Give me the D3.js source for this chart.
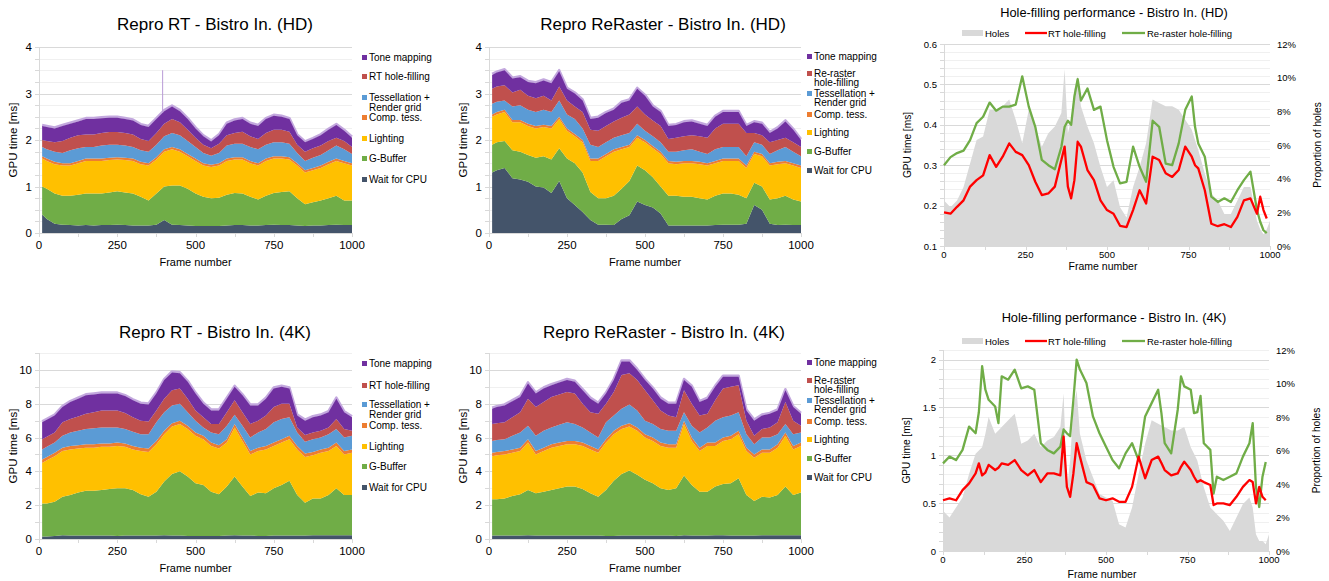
<!DOCTYPE html>
<html><head><meta charset="utf-8">
<script src="https://cdn.jsdelivr.net/npm/d3@7"></script>
<style>
body{margin:0;background:#fff}
svg{display:block}
text{font-family:"Liberation Sans",Arial,Helvetica,sans-serif;fill:#000}
</style>
</head><body>
<svg id="c" width="1329" height="581"></svg>
<script>
// ---------------- DATA ----------------
const stackFrames = [10,25,50,75,100,125,150,175,200,225,250,275,300,325,350,375,400,425,450,475,500,525,550,575,600,625,650,675,700,725,750,775,800,825,850,875,900,925,950,975,1000];
const stackColors = ["#44546a","#70ad47","#ffc000","#ed7d31","#5b9bd5","#c0504d","#7030a0"];

// Repro RT - HD (layer thickness, ms)
const rtHD_wait  = [.40,.30,.20,.18,.17,.16,.17,.16,.17,.17,.18,.17,.16,.16,.16,.18,.28,.18,.17,.16,.15,.15,.15,.15,.16,.17,.17,.16,.16,.17,.18,.17,.17,.16,.15,.16,.16,.17,.18,.17,.17];
const rtHD_gbuf  = [.60,.65,.65,.62,.63,.66,.68,.69,.68,.70,.72,.70,.69,.62,.54,.67,.72,.84,.85,.79,.70,.63,.60,.61,.66,.69,.68,.62,.56,.63,.68,.71,.73,.59,.47,.50,.54,.58,.62,.53,.53];
const rtHD_light = [.60,.60,.63,.65,.65,.68,.70,.70,.70,.70,.68,.70,.70,.70,.75,.73,.75,.78,.73,.70,.70,.67,.67,.69,.73,.72,.73,.72,.73,.75,.74,.72,.68,.70,.68,.69,.70,.73,.75,.80,.75];
const rtHD_comp  = [.05,.05,.05,.05,.05,.05,.05,.05,.05,.05,.05,.05,.05,.05,.05,.05,.05,.05,.05,.05,.05,.05,.05,.05,.05,.05,.05,.05,.05,.05,.05,.05,.05,.05,.05,.05,.05,.05,.05,.05,.05];
const rtHD_tess  = [.20,.20,.22,.22,.28,.27,.25,.25,.28,.28,.27,.26,.25,.25,.25,.27,.28,.30,.30,.28,.25,.22,.19,.22,.28,.29,.29,.30,.30,.30,.30,.30,.29,.22,.20,.22,.23,.25,.28,.25,.20];
const rtHD_hole  = [.15,.18,.20,.26,.27,.28,.27,.27,.27,.27,.27,.27,.27,.24,.23,.25,.27,.30,.28,.24,.20,.18,.16,.20,.22,.23,.26,.23,.22,.25,.27,.27,.26,.18,.20,.20,.20,.20,.17,.18,.15];
const rtHD_tone  = [.30,.30,.30,.32,.30,.30,.33,.33,.32,.31,.31,.30,.30,.30,.30,.30,.27,.27,.24,.23,.20,.18,.15,.18,.25,.27,.27,.27,.28,.30,.30,.28,.27,.20,.20,.20,.22,.24,.27,.22,.20];
const rtHD_spikeFrames = [395];
const rtHD_spikeTops = [3.5];

// Repro ReRaster - HD
const rrHD_wait  = [1.30,1.35,1.40,1.18,1.15,1.10,1.00,.98,.86,1.12,.75,.60,.45,.28,.18,.18,.17,.30,.38,.68,.60,.55,.42,.16,.16,.16,.16,.16,.16,.17,.18,.18,.18,.20,.60,.50,.20,.17,.18,.17,.17];
const rrHD_gbuf  = [.60,.60,.58,.60,.60,.58,.62,.67,.72,.70,.85,.90,.85,.60,.57,.57,.63,.65,.74,.77,.75,.65,.58,.64,.64,.62,.62,.59,.56,.63,.67,.67,.64,.55,.48,.50,.52,.58,.62,.55,.51];
const rrHD_light = [.60,.60,.62,.60,.63,.62,.63,.63,.67,.63,.60,.58,.65,.67,.80,.90,.95,.85,.73,.60,.60,.62,.70,.70,.68,.72,.72,.73,.73,.70,.70,.70,.73,.65,.62,.65,.73,.73,.70,.73,.72];
const rrHD_comp  = [.05,.05,.05,.05,.05,.05,.05,.05,.05,.05,.05,.05,.05,.05,.05,.05,.05,.05,.05,.05,.05,.05,.05,.05,.05,.05,.05,.05,.05,.05,.05,.05,.05,.05,.05,.05,.05,.05,.05,.05,.05];
const rrHD_tess  = [.23,.22,.20,.29,.32,.30,.30,.32,.30,.35,.30,.32,.25,.30,.25,.25,.25,.25,.25,.25,.20,.21,.20,.20,.22,.23,.25,.22,.20,.25,.25,.25,.25,.20,.20,.20,.20,.25,.30,.25,.20];
const rrHD_hole  = [.32,.33,.33,.30,.33,.30,.30,.30,.25,.30,.30,.27,.35,.32,.35,.35,.35,.38,.40,.37,.35,.34,.35,.27,.30,.30,.30,.33,.35,.45,.50,.50,.50,.50,.20,.20,.25,.22,.20,.20,.20];
const rrHD_tone  = [.30,.30,.32,.30,.27,.30,.32,.33,.37,.33,.25,.28,.25,.23,.28,.28,.25,.32,.30,.38,.40,.30,.30,.28,.27,.30,.30,.27,.25,.25,.25,.25,.25,.15,.23,.25,.20,.25,.35,.27,.15];

// Repro RT - 4K
const rt4K_wait  = [.15,.15,.18,.22,.20,.20,.20,.20,.20,.20,.18,.20,.20,.20,.20,.20,.22,.20,.20,.18,.18,.18,.18,.18,.20,.22,.20,.20,.18,.18,.20,.20,.20,.20,.20,.22,.22,.22,.22,.22,.22];
const rt4K_gbuf  = [1.95,1.95,2.02,2.28,2.40,2.55,2.65,2.65,2.70,2.75,2.82,2.80,2.70,2.45,2.30,2.60,3.18,3.65,3.80,3.52,3.12,3.02,2.62,2.47,2.90,3.48,2.90,2.35,2.57,2.52,2.80,3.00,3.25,2.40,1.95,2.18,2.18,2.38,2.78,2.38,2.38];
const rt4K_light = [2.40,2.55,2.70,2.70,2.70,2.60,2.55,2.55,2.55,2.50,2.50,2.45,2.40,2.55,2.65,2.80,2.80,2.80,2.80,2.80,2.80,2.70,2.70,2.70,2.60,2.90,2.70,2.45,2.45,2.60,2.50,2.50,2.45,2.70,2.70,2.55,2.70,2.60,2.50,2.40,2.50];
const rt4K_comp  = [.20,.20,.20,.20,.20,.20,.20,.20,.20,.20,.20,.20,.20,.20,.20,.20,.20,.20,.20,.20,.20,.20,.20,.20,.20,.20,.20,.20,.20,.20,.20,.20,.20,.20,.20,.20,.20,.20,.20,.20,.20];
const rt4K_tess  = [.60,.60,.60,.70,.80,.85,.90,.95,.95,.95,.90,.85,.85,.80,.85,1.10,1.10,1.05,1.00,.80,.70,.50,.60,.65,.80,.55,.70,.80,.90,1.00,1.20,1.20,1.10,.80,.70,.75,.70,.80,.80,.80,.80];
const rt4K_hole  = [.60,.60,.60,.80,.80,.85,.90,.95,1.00,1.00,1.00,.95,.85,.80,.75,.70,.80,.90,.90,.80,.60,.60,.50,.60,.80,.85,.80,.80,.70,.80,.90,.90,.80,.30,.40,.40,.40,.40,.60,.50,.30];
const rt4K_tone  = [1.00,1.00,1.00,.90,1.00,1.05,1.10,1.05,1.00,1.00,1.00,1.00,1.00,1.00,1.00,1.00,1.10,1.05,.90,1.00,1.00,.80,.80,.80,.80,.80,1.00,1.10,.90,1.00,1.10,1.00,.90,.70,.85,.90,.90,.90,1.20,1.00,.80];

// Repro ReRaster - 4K
const rr4K_wait  = [.20,.20,.20,.20,.20,.22,.20,.20,.20,.20,.20,.20,.20,.20,.20,.18,.18,.20,.20,.20,.20,.20,.20,.20,.18,.22,.20,.20,.20,.22,.22,.20,.20,.20,.20,.22,.22,.22,.22,.22,.22];
const rr4K_gbuf  = [2.15,2.15,2.20,2.35,2.45,2.68,2.50,2.60,2.70,2.80,2.90,2.90,2.75,2.50,2.30,2.72,3.27,3.65,3.85,3.60,3.30,3.10,2.80,2.70,2.82,3.53,3.00,2.60,2.60,2.88,3.03,3.10,3.40,2.40,2.05,2.28,2.23,2.38,2.88,2.38,2.53];
const rr4K_light = [2.55,2.60,2.60,2.55,2.55,2.80,2.30,2.40,2.50,2.50,2.50,2.50,2.55,2.60,2.60,2.80,2.75,2.65,2.60,2.60,2.50,2.50,2.50,2.50,2.40,3.05,2.60,2.40,2.70,2.40,2.55,2.60,2.60,2.60,2.55,2.60,2.65,2.80,3.00,2.70,2.75];
const rr4K_comp  = [.20,.20,.20,.20,.20,.20,.20,.20,.20,.20,.20,.20,.20,.20,.20,.20,.20,.20,.20,.20,.20,.20,.20,.20,.20,.20,.20,.20,.20,.20,.20,.20,.20,.20,.20,.20,.20,.20,.20,.20,.20];
const rr4K_tess  = [.70,.70,.70,.80,.90,.80,.90,1.00,1.00,1.05,1.10,1.00,.90,.80,.70,1.00,.90,1.00,1.10,1.00,.80,.80,.80,.80,.80,.50,.70,.90,.90,1.30,1.20,1.20,1.10,.80,.60,.70,.70,.60,.50,.70,.60];
const rr4K_hole  = [1.00,1.00,1.00,1.10,1.20,1.60,1.70,1.70,1.80,1.80,1.80,1.80,1.40,1.20,1.40,1.10,1.40,2.00,1.85,1.80,1.80,1.40,1.10,.90,.80,1.30,1.30,1.00,.80,1.20,1.70,1.70,1.60,.80,.50,.50,.60,.70,1.30,.80,.40];
const rr4K_tone  = [.90,.95,1.00,.95,.90,.90,.80,.80,.70,.70,.70,.70,.80,.80,.60,.60,.70,.80,.70,.60,.60,.70,.70,.70,.80,.60,1.00,.80,.90,.80,.70,.60,.50,.60,.90,.80,.80,.70,.70,.80,.70];

// Legends (top to bottom)
const legendRT = ["Tone mapping","RT hole-filling","Tessellation +|Render grid","Comp. tess.","Lighting","G-Buffer","Wait for CPU"];
const legendRR = ["Tone mapping","Re-raster|hole-filling","Tessellation +|Render grid","Comp. tess.","Lighting","G-Buffer","Wait for CPU"];

const frameTicks = [0,250,500,750,1000];
const yTicksHD = [0,1,2,3,4];
const yTicks4K = [0,2,4,6,8,10];

// Hole-filling - HD
const holeFramesHD = [0,20,40,60,80,100,120,140,160,180,200,220,240,260,280,300,320,340,360,370,380,390,400,410,420,440,460,480,500,520,540,560,580,600,620,640,660,680,700,720,740,760,770,780,800,820,840,860,880,900,920,940,960,970,980,990,1000];
const holesHD   = [2.7,2.3,2.7,3.5,4.9,6.3,6.5,8.1,8.1,8.3,8.7,7.5,6.1,8.1,7.1,5.9,6.7,7.1,7.9,10.5,6.7,7.5,9.3,10.1,8.3,7.1,6.1,4.7,3.5,3.9,2.3,1.7,3.5,4.7,6.1,8.7,8.5,8.3,8.3,8.1,7.5,6.9,6.3,5.7,4.3,3.1,2.7,1.9,1.9,2.7,3.5,3.5,1.5,1.0,0.7,1.0,1.5];
const rtFillHD  = [.183,.18,.197,.213,.247,.263,.275,.325,.296,.321,.354,.333,.325,.30,.259,.226,.23,.247,.313,.346,.247,.218,.263,.358,.346,.288,.263,.213,.189,.18,.15,.147,.189,.238,.205,.321,.313,.28,.271,.288,.346,.321,.30,.292,.238,.155,.149,.154,.147,.172,.213,.218,.18,.222,.189,.168,null];
const rrFillHD  = [.30,.32,.33,.336,.362,.404,.42,.455,.435,.445,.445,.45,.52,.445,.395,.313,.30,.29,.345,.395,.41,.40,.47,.513,.46,.49,.437,.445,.362,.296,.255,.259,.346,.296,.259,.41,.395,.304,.30,.354,.437,.47,.395,.354,.321,.222,.209,.218,.209,.238,.263,.284,.189,.16,.139,.132,null];
const holeYTicksHD = [0.1,0.2,0.3,0.4,0.5,0.6];

// Hole-filling - 4K
const holeFrames4K = [0,20,40,60,80,100,110,120,130,140,160,170,180,200,220,240,260,280,300,320,340,360,370,380,390,400,410,420,440,460,480,500,520,540,560,580,600,620,640,660,670,680,700,720,730,740,760,770,780,790,800,820,830,840,860,880,900,920,940,950,960,970,980,990,1000];
const holes4K   = [2.4,2.0,2.6,3.2,4.6,5.8,6.0,6.2,7.0,8.0,7.0,7.2,7.4,7.8,8.2,6.4,6.6,7.0,6.2,6.6,6.8,7.4,9.4,3.6,5.4,8.6,9.6,7.0,5.4,4.4,3.4,3.2,3.0,1.6,1.4,2.6,4.6,6.4,7.8,7.6,7.5,7.4,7.2,7.2,7.3,7.4,6.2,5.8,5.4,4.6,3.8,2.6,2.4,2.2,1.8,1.2,2.0,2.8,3.2,2.6,1.0,0.6,0.6,0.4,1.0];
const rtFill4K  = [.53,.55,.53,.636,.706,.81,.916,.79,.82,.90,.846,.87,.916,.90,.95,.846,.79,.846,.72,.81,.81,.79,1.196,.67,.566,.81,1.126,.986,.72,.69,.55,.53,.55,.514,.514,.67,.986,.76,.95,.986,.92,.846,.79,.81,.88,.934,.846,.776,.72,.74,.72,.69,.48,.497,.497,.48,.566,.67,.741,.72,.497,.67,.566,.53,null];
const rrFill4K  = [.916,.986,.95,1.056,1.30,1.23,1.45,1.93,1.685,1.58,1.51,1.336,1.825,1.79,1.895,1.70,1.72,1.685,1.126,1.056,1.02,1.09,1.27,1.23,1.20,1.58,2.0,1.895,1.755,1.406,1.23,1.09,.95,.864,1.02,1.126,.95,1.406,1.545,1.685,1.44,1.126,1.02,1.476,1.825,1.72,1.685,1.44,1.45,1.62,1.126,1.056,.60,.776,.741,.776,.811,.986,1.126,1.336,.67,.46,.776,.93,null];
const holeYTicks4K = [0,0.5,1,1.5,2];
const pctTicks = [0,2,4,6,8,10,12];
const holeLegend = ["Holes","RT hole-filling","Re-raster hole-filling"];
const holeColors = ["#d9d9d9","#ff0000","#70ad47"];

// ---------------- DRAWING ----------------
const svg = d3.select("#c");
const near = (a,b)=>Math.abs(a-b)<1e-6;
const px = v=>Math.round(v)+0.5;

function drawStack(c){
  const g = svg.append("g");
  const x = d3.scaleLinear().domain([0,1000]).range([c.l,c.r]);
  const y = d3.scaleLinear().domain([0,c.yMax]).range([c.b,c.t]);
  const grid = d3.range(0, c.yMax+1e-9, c.minor);
  g.append("g").selectAll("line").data(grid).join("line")
    .attr("x1",c.l).attr("x2",c.r).attr("y1",d=>px(y(d))).attr("y2",d=>px(y(d)))
    .attr("stroke",d=>c.ticks.some(t=>near(t,d))?"#d9d9d9":"#f0f0f0").attr("stroke-width",1);
  g.append("g").selectAll("line").data(grid).join("line")
    .attr("x1",c.l-4).attr("x2",c.l).attr("y1",d=>px(y(d))).attr("y2",d=>px(y(d)))
    .attr("stroke","#d9d9d9");
  const keys = ["wait","gbuf","light","comp","tess","hole","tone"];
  const rows = stackFrames.map((f,i)=>{const r={frame:f}; keys.forEach((k,j)=>r[k]=c.series[j][i]); return r;});
  const layers = d3.stack().keys(keys)(rows);
  const area = d3.area().x(d=>x(d.data.frame)).y0(d=>y(d[0])).y1(d=>y(d[1]));
  // light fringe above the top layer
  g.append("path").datum(layers[layers.length-1]).attr("fill","none")
    .attr("stroke","#c3a8de").attr("stroke-width",2.5).attr("stroke-linejoin","round")
    .attr("d",d3.line().x(d=>x(d.data.frame)).y(d=>y(d[1])-1));
  g.append("g").selectAll("path").data(layers).join("path")
    .attr("fill",(d,i)=>stackColors[i]).attr("d",area);
  if(c.spikeFrames){
    const top = layers[layers.length-1];
    c.spikeFrames.forEach((f,i)=>{
      const idx = d3.bisector(d=>d.data.frame).left(top,f);
      const a=top[idx-1], b=top[idx];
      const t=(f-a.data.frame)/(b.data.frame-a.data.frame);
      const base=a[1]+(b[1]-a[1])*t;
      g.append("line").attr("x1",x(f)).attr("x2",x(f)).attr("y1",y(base)).attr("y2",y(c.spikeTops[i]))
        .attr("stroke","#b99bd6").attr("stroke-width",1);
    });
  }
  g.append("line").attr("x1",px(c.l)).attr("x2",px(c.l)).attr("y1",c.t).attr("y2",c.b).attr("stroke","#d9d9d9");
  g.append("line").attr("x1",c.l).attr("x2",c.r).attr("y1",px(c.b)).attr("y2",px(c.b)).attr("stroke","#d9d9d9");
  g.append("g").selectAll("line").data(d3.range(0,1001,125)).join("line")
    .attr("x1",d=>px(x(d))).attr("x2",d=>px(x(d))).attr("y1",c.b).attr("y2",c.b+4).attr("stroke","#d9d9d9");
  g.append("g").selectAll("text").data(c.ticks).join("text")
    .attr("x",c.l-7).attr("y",d=>y(d)+4).attr("text-anchor","end").attr("font-size",11.5).text(d=>d);
  g.append("g").selectAll("text").data(frameTicks).join("text")
    .attr("x",d=>x(d)).attr("y",c.b+16).attr("text-anchor","middle").attr("font-size",11.5).text(d=>d);
  g.append("text").attr("x",(c.l+c.r)/2).attr("y",c.b+33).attr("text-anchor","middle").attr("font-size",11).text("Frame number");
  g.append("text").attr("transform",`translate(${c.l-22},${(c.t+c.b)/2}) rotate(-90)`).attr("text-anchor","middle").attr("font-size",11.5).text("GPU time [ms]");
  g.append("text").attr("x",c.titleX).attr("y",c.titleY).attr("text-anchor","middle").attr("font-size",17).text(c.title);
  const colorsTopDown = stackColors.slice().reverse();
  c.legend.forEach((lab,i)=>{
    const yc = c.legY[i];
    g.append("rect").attr("x",c.legX).attr("y",yc-2).attr("width",5).attr("height",5).attr("fill",colorsTopDown[i]);
    const parts = lab.split("|");
    const t = g.append("text").attr("x",c.legX+7).attr("y",yc+4).attr("font-size",10);
    parts.forEach((p,k)=>t.append("tspan").attr("x",c.legX+7).attr("dy",k===0?0:c.legGap).text(p));
  });
}

function drawHoles(c){
  const g = svg.append("g");
  const x = d3.scaleLinear().domain([0,1000]).range([c.l,c.r]);
  const y = d3.scaleLinear().domain([c.yMin,c.yMax]).range([c.b,c.t]);
  const yR = d3.scaleLinear().domain([0,12]).range([c.b,c.t]);
  const grid = d3.range(c.yMin, c.yMax+1e-9, c.minor);
  g.append("g").selectAll("line").data(grid).join("line")
    .attr("x1",c.l).attr("x2",c.r).attr("y1",d=>px(y(d))).attr("y2",d=>px(y(d)))
    .attr("stroke",d=>c.ticks.some(t=>near(t,d))?"#d9d9d9":"#f0f0f0");
  g.append("g").selectAll("line").data(grid).join("line")
    .attr("x1",c.l-4).attr("x2",c.l).attr("y1",d=>px(y(d))).attr("y2",d=>px(y(d))).attr("stroke","#d9d9d9");
  const rows = c.frames.map((f,i)=>({f, h:c.holes[i], rt:c.rt[i], rr:c.rr[i]}));
  g.append("path").datum(rows).attr("fill",holeColors[0])
    .attr("d",d3.area().x(d=>x(d.f)).y0(c.b).y1(d=>yR(d.h)));
  g.append("line").attr("x1",px(c.l)).attr("x2",px(c.l)).attr("y1",c.t).attr("y2",c.b).attr("stroke","#d9d9d9");
  g.append("line").attr("x1",c.l).attr("x2",c.r).attr("y1",px(c.b)).attr("y2",px(c.b)).attr("stroke","#d9d9d9");
  g.append("g").selectAll("line").data(d3.range(0,1001,125)).join("line")
    .attr("x1",d=>px(x(d))).attr("x2",d=>px(x(d))).attr("y1",c.b).attr("y2",c.b+4).attr("stroke","#d9d9d9");
  const line = key=>d3.line().defined(d=>d[key]!=null).x(d=>x(d.f)).y(d=>y(d[key]));
  g.append("path").datum(rows).attr("fill","none").attr("stroke",holeColors[2]).attr("stroke-width",2.3).attr("stroke-linejoin","round").attr("d",line("rr"));
  g.append("path").datum(rows).attr("fill","none").attr("stroke",holeColors[1]).attr("stroke-width",2.3).attr("stroke-linejoin","round").attr("d",line("rt"));
  g.append("g").selectAll("text").data(c.ticks).join("text")
    .attr("x",c.l-7).attr("y",d=>y(d)+3.5).attr("text-anchor","end").attr("font-size",9.5).text(d=>d);
  g.append("g").selectAll("text").data(pctTicks).join("text")
    .attr("x",c.r+7).attr("y",d=>yR(d)+3.5).attr("font-size",9.5).text(d=>d+"%");
  g.append("g").selectAll("text").data(frameTicks).join("text")
    .attr("x",d=>x(d)).attr("y",c.b+12).attr("text-anchor","middle").attr("font-size",9.5).text(d=>d);
  g.append("text").attr("x",(c.l+c.r)/2-4).attr("y",c.b+c.xTitleDy).attr("text-anchor","middle").attr("font-size",10.5).text("Frame number");
  g.append("text").attr("transform",`translate(${c.l-33},${(c.t+c.b)/2}) rotate(-90)`).attr("text-anchor","middle").attr("font-size",10.2).text("GPU time [ms]");
  g.append("text").attr("transform",`translate(${c.r+51},${(c.t+c.b)/2}) rotate(-90)`).attr("text-anchor","middle").attr("font-size",10.2).text("Proportion of holes");
  g.append("text").attr("x",1114).attr("y",c.titleY).attr("text-anchor","middle").attr("font-size",12.8).text(c.title);
  const ly = c.legY;
  g.append("rect").attr("x",962).attr("y",ly-3).attr("width",21).attr("height",6).attr("fill",holeColors[0]);
  g.append("text").attr("x",985).attr("y",ly+3.5).attr("font-size",9.5).text(holeLegend[0]);
  g.append("line").attr("x1",1025).attr("x2",1047).attr("y1",ly).attr("y2",ly).attr("stroke",holeColors[1]).attr("stroke-width",2.3);
  g.append("text").attr("x",1048).attr("y",ly+3.5).attr("font-size",9.5).text(holeLegend[1]);
  g.append("line").attr("x1",1122).attr("x2",1145).attr("y1",ly).attr("y2",ly).attr("stroke",holeColors[2]).attr("stroke-width",2.3);
  g.append("text").attr("x",1147).attr("y",ly+3.5).attr("font-size",9.5).text(holeLegend[2]);
}

drawStack({l:39,r:352,t:47,b:233,yMax:4,minor:0.25,ticks:yTicksHD,
  series:[rtHD_wait,rtHD_gbuf,rtHD_light,rtHD_comp,rtHD_tess,rtHD_hole,rtHD_tone],
  spikeFrames:rtHD_spikeFrames, spikeTops:rtHD_spikeTops,
  title:"Repro RT - Bistro In. (HD)",titleX:215,titleY:30,
  legend:legendRT,legX:362,legY:[57,76,97,117,138,158,179],legGap:10});
drawStack({l:489,r:801,t:47,b:233,yMax:4,minor:0.25,ticks:yTicksHD,
  series:[rrHD_wait,rrHD_gbuf,rrHD_light,rrHD_comp,rrHD_tess,rrHD_hole,rrHD_tone],
  title:"Repro ReRaster - Bistro In. (HD)",titleX:663,titleY:30,
  legend:legendRR,legX:807,legY:[56,73,93,114,132,151,170],legGap:9});
drawStack({l:39,r:352,t:353,b:539,yMax:11,minor:1,ticks:yTicks4K,
  series:[rt4K_wait,rt4K_gbuf,rt4K_light,rt4K_comp,rt4K_tess,rt4K_hole,rt4K_tone],
  title:"Repro RT - Bistro In. (4K)",titleX:215,titleY:338,
  legend:legendRT,legX:362,legY:[363,385,404,425,446,466,487],legGap:9.5});
drawStack({l:489,r:801,t:353,b:539,yMax:11,minor:1,ticks:yTicks4K,
  series:[rr4K_wait,rr4K_gbuf,rr4K_light,rr4K_comp,rr4K_tess,rr4K_hole,rr4K_tone],
  title:"Repro ReRaster - Bistro In. (4K)",titleX:664,titleY:338,
  legend:legendRR,legX:807,legY:[362,380,400,421,439,458,477],legGap:9});

drawHoles({l:944,r:1270,t:44,b:246,yMin:0.1,yMax:0.6,minor:0.02,ticks:holeYTicksHD,
  frames:holeFramesHD,holes:holesHD,rt:rtFillHD,rr:rrFillHD,
  title:"Hole-filling performance - Bistro In. (HD)",titleY:17,legY:33,xTitleDy:24});
drawHoles({l:943,r:1269,t:350,b:551,yMin:0,yMax:2.1,minor:0.1,ticks:holeYTicks4K,
  frames:holeFrames4K,holes:holes4K,rt:rtFill4K,rr:rrFill4K,
  title:"Hole-filling performance - Bistro In. (4K)",titleY:322,legY:341,xTitleDy:27});
</script>
</body></html>
